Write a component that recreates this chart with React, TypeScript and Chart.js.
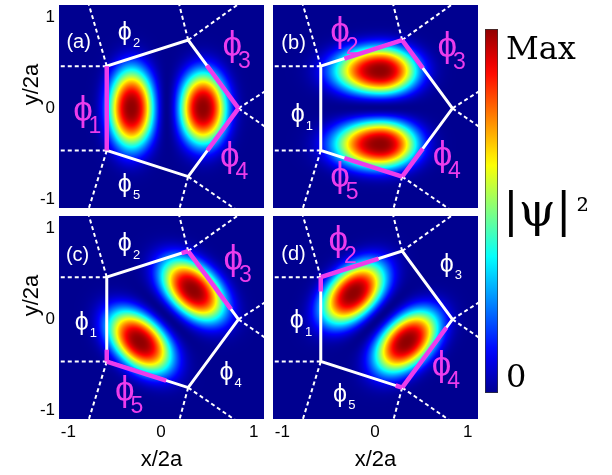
import React, { useEffect, useRef } from 'react';
import { Chart, registerables } from 'chart.js';

Chart.register(...registerables);

// ---------- axes ----------
const xTicks = [-1, 0, 1];
const yTicks = [-1, 0, 1];
const xRange = [-1.1, 1.11];
const yRange = [-1.09, 1.13];
const xTitle = 'x/2a';
const yTitle = 'y/2a';

// ---------- panels ----------
const panelLabels = ['(a)', '(b)', '(c)', '(d)'];
const panelLabelX = [-0.888, -0.878, -0.9, -0.879];
const panelLabelY = [0.716, 0.711, 0.695, 0.704];

// pentagon (domain boundary)
const pentagonCenter = [0.05, 0];
const pentagonRadius = 0.785;
const vertexAngles = [0, 72, 144, 216, 288];
// dashed region boundaries leaving each vertex (degrees)
const rayAngles = [[33, -35], [36, 104], [106, 180], [180, 253], [255, 325]];

// highlighted (magenta) parts of the boundary; edge k runs from vertex k to vertex k+1
const highlightEdge = [[2, 0, 4], [1, 0, 3, 4], [0, 1, 3, 2], [1, 2, 4, 3]];
const highlightFrom = [[0, 0, 0.38], [0, 0.59, 0.29, 0], [0.15, 0, 0, 0.86], [0.29, 0, 0, 0.92]];
const highlightTo = [[1, 0.63, 1], [0.71, 1, 1, 0.41], [1, 0.08, 0.73, 1], [1, 0.17, 0.88, 1]];

// phi_1..phi_5 labels per panel (glyph centres)
const phiX = [
  [-0.842, -0.39, 0.768, 0.741, -0.39],
  [-0.834, -0.377, 0.78, 0.727, -0.377],
  [-0.856, -0.39, 0.78, 0.705, -0.39],
  [-0.843, -0.395, 0.772, 0.718, -0.377],
];
const phiY = [
  [-0.037, 0.82, 0.671, -0.54, -0.839],
  [-0.082, 0.824, 0.66, -0.53, -0.757],
  [-0.044, 0.813, 0.64, -0.591, -0.79],
  [-0.026, 0.849, 0.594, -0.52, -0.828],
];
const phiHighlighted = [
  [1, 0, 1, 1, 0],
  [0, 1, 1, 1, 1],
  [0, 0, 1, 0, 1],
  [0, 1, 0, 1, 0],
];

// wavefunction lobes per panel (two lobes of opposite sign)
const lobeCenterX = [[-0.318, 0.453], [0.06, 0.06], [0.345, -0.228], [-0.234, 0.341]];
const lobeCenterY = [[0, 0], [0.41, -0.394], [0.32, -0.245], [0.284, -0.245]];
const lobeAngle = [[90, 90], [0, 0], [-45, -45], [45, 45]];
const lobeBack = [[0.425, 0.39], [0.48, 0.48], [0.4, 0.4], [0.4, 0.4]];
const lobeFront = [[0.425, 0.39], [0.38, 0.38], [0.4, 0.4], [0.4, 0.4]];
const lobeWidth = [[0.24, 0.25], [0.255, 0.255], [0.25, 0.25], [0.25, 0.25]];
const lobeSign = [[1, -1], [1, -1], [1, -1], [1, -1]];

// colour bar
const colorbarTickValues = [0.04, 0.94];
const colorbarTickLabels = ['0', 'Max'];
const colorbarTitle = '|\u03c8|';
const colorbarTitleSup = '\u00b2';

// ---------- styles ----------
const SANS = 'Liberation Sans, Arial, sans-serif';
const SERIF = 'DejaVu Serif, serif';
const MAGENTA = '#ec3cec';
const PROFILE_EXP = 2.6;
const PHI = '\u03d5';

function jet(t: number): [number, number, number] {
  const x = 0.016 + 0.968 * Math.min(1, Math.max(0, t));
  const c = (v: number) => Math.round(255 * Math.min(1, Math.max(0, v)));
  return [
    c(Math.min(4 * x - 1.5, -4 * x + 4.5)),
    c(Math.min(4 * x - 0.5, -4 * x + 3.5)),
    c(Math.min(4 * x + 0.5, -4 * x + 2.5)),
  ];
}

function psi(p: number, xv: number, yv: number) {
  let s = 0;
  for (let k = 0; k < lobeCenterX[p].length; k++) {
    const th = (lobeAngle[p][k] * Math.PI) / 180;
    const dx = xv - lobeCenterX[p][k];
    const dy = yv - lobeCenterY[p][k];
    const u = dx * Math.cos(th) + dy * Math.sin(th);
    const v = -dx * Math.sin(th) + dy * Math.cos(th);
    const a = u < 0 ? lobeBack[p][k] : lobeFront[p][k];
    const q2 = (u / a) * (u / a) + (v / lobeWidth[p][k]) * (v / lobeWidth[p][k]);
    s += lobeSign[p][k] * Math.exp(-0.5 * Math.pow(q2, PROFILE_EXP / 2));
  }
  return s * s;
}

function panelPlugin(p: number, withYTitle: boolean) {
  return {
    id: 'panelArt' + p,
    beforeDatasetsDraw(chart: any) {
      const { ctx, chartArea: a } = chart;
      const xs = chart.scales.x;
      const ys = chart.scales.y;
      const w = Math.round(a.right - a.left);
      const h = Math.round(a.bottom - a.top);
      // heat map
      const vals = new Float32Array(w * h);
      let max = 0;
      for (let j = 0; j < h; j++) {
        const yv = ys.getValueForPixel(a.top + j + 0.5);
        for (let i = 0; i < w; i++) {
          const xv = xs.getValueForPixel(a.left + i + 0.5);
          const v = psi(p, xv, yv);
          vals[j * w + i] = v;
          if (v > max) max = v;
        }
      }
      const off = document.createElement('canvas');
      off.width = w;
      off.height = h;
      const octx = off.getContext('2d')!;
      const img = octx.createImageData(w, h);
      for (let n = 0; n < w * h; n++) {
        const [r, g, b] = jet(vals[n] / max);
        img.data[4 * n] = r;
        img.data[4 * n + 1] = g;
        img.data[4 * n + 2] = b;
        img.data[4 * n + 3] = 255;
      }
      octx.putImageData(img, 0, 0);
      ctx.drawImage(off, a.left, a.top);

      const px = (v: number) => xs.getPixelForValue(v);
      const py = (v: number) => ys.getPixelForValue(v);
      const verts = vertexAngles.map((d) => {
        const t = (d * Math.PI) / 180;
        return [pentagonCenter[0] + pentagonRadius * Math.cos(t), pentagonCenter[1] + pentagonRadius * Math.sin(t)];
      });

      ctx.save();
      ctx.beginPath();
      ctx.rect(a.left, a.top, a.right - a.left, a.bottom - a.top);
      ctx.clip();

      // dashed boundaries
      ctx.strokeStyle = '#ffffff';
      ctx.lineWidth = 2;
      ctx.setLineDash([4, 3]);
      verts.forEach((vt, k) => {
        rayAngles[k].forEach((d) => {
          const t = (d * Math.PI) / 180;
          ctx.beginPath();
          ctx.moveTo(px(vt[0]), py(vt[1]));
          ctx.lineTo(px(vt[0] + 3 * Math.cos(t)), py(vt[1] + 3 * Math.sin(t)));
          ctx.stroke();
        });
      });
      ctx.setLineDash([]);

      // pentagon
      ctx.lineWidth = 3;
      ctx.lineJoin = 'miter';
      ctx.beginPath();
      verts.forEach((vt, k) => (k === 0 ? ctx.moveTo(px(vt[0]), py(vt[1])) : ctx.lineTo(px(vt[0]), py(vt[1]))));
      ctx.closePath();
      ctx.stroke();

      // highlighted segments
      ctx.strokeStyle = MAGENTA;
      ctx.lineWidth = 4.5;
      ctx.lineCap = 'butt';
      highlightEdge[p].forEach((e, k) => {
        const A = verts[e];
        const B = verts[(e + 1) % 5];
        const t0 = highlightFrom[p][k];
        const t1 = highlightTo[p][k];
        ctx.beginPath();
        ctx.moveTo(px(A[0] + (B[0] - A[0]) * t0), py(A[1] + (B[1] - A[1]) * t0));
        ctx.lineTo(px(A[0] + (B[0] - A[0]) * t1), py(A[1] + (B[1] - A[1]) * t1));
        ctx.stroke();
      });

      // labels
      ctx.textAlign = 'center';
      ctx.textBaseline = 'middle';
      ctx.fillStyle = '#ffffff';
      ctx.font = `20px ${SANS}`;
      ctx.fillText(panelLabels[p], px(panelLabelX[p]), py(panelLabelY[p]));
      ctx.textBaseline = 'alphabetic';
      for (let k = 0; k < 5; k++) {
        const big = phiHighlighted[p][k] === 1;
        const cx = px(phiX[p][k]);
        const cy = py(phiY[p][k]);
        const fs = big ? 35 : 25;
        const ss = big ? 23 : 13;
        ctx.fillStyle = big ? MAGENTA : '#ffffff';
        ctx.font = `${fs}px ${SANS}`;
        ctx.fillText(PHI, cx, cy + 0.26 * fs);
        ctx.font = `${ss}px ${SANS}`;
        const sx = cx + (big ? 12 : 11.7);
        const sy = cy + (big ? 13 : 9.2);
        ctx.fillText(String(k + 1), sx, sy + 0.358 * ss);
      }
      ctx.restore();
    },
    afterDraw(chart: any) {
      if (!withYTitle) return;
      const { ctx, chartArea: a } = chart;
      ctx.save();
      ctx.translate(32, (a.top + a.bottom) / 2 - 22);
      ctx.rotate(-Math.PI / 2);
      ctx.fillStyle = '#000';
      ctx.font = `22px ${SANS}`;
      ctx.textAlign = 'center';
      ctx.textBaseline = 'middle';
      ctx.fillText(yTitle, 0, 0);
      ctx.restore();
    },
  };
}

type PanelProps = { index: number; left: number; top: number; width: number; height: number; showX: boolean; showY: boolean };

function Panel({ index, left, top, width, height, showX, showY }: PanelProps) {
  const ref = useRef<HTMLCanvasElement>(null);
  useEffect(() => {
    const canvas = ref.current!;
    const chart = new Chart(canvas, {
      type: 'scatter',
      data: { datasets: [{ data: [] }] },
      options: {
        animation: false,
        responsive: false,
        devicePixelRatio: 1,
        layout: { padding: { top: showX ? 0 : 5, left: 0, right: 0, bottom: 0 } },
        plugins: { legend: { display: false }, tooltip: { enabled: false } },
        scales: {
          x: {
            type: 'linear',
            min: xRange[0],
            max: xRange[1],
            display: showX,
            grid: { display: false, drawTicks: false },
            border: { display: false },
            ticks: { font: { family: SANS, size: 17 }, color: '#000', padding: 3, maxRotation: 0, autoSkip: false },
            title: { display: true, text: xTitle, font: { family: SANS, size: 22 }, color: '#000', padding: { top: 0, bottom: 2 } },
            afterBuildTicks: (s: any) => {
              s.ticks = xTicks.map((v) => ({ value: v }));
            },
            afterFit: (s: any) => {
              if (!showX) { s.height = 0; return; }
              s.height = 56;
              s.paddingLeft = 0;
              s.paddingRight = 0;
            },
          },
          y: {
            type: 'linear',
            min: yRange[0],
            max: yRange[1],
            display: showY,
            grid: { display: false, drawTicks: false },
            border: { display: false },
            ticks: { font: { family: SANS, size: 17 }, color: '#000', padding: 4, autoSkip: false },
            afterBuildTicks: (s: any) => {
              s.ticks = yTicks.map((v) => ({ value: v }));
            },
            afterFit: (s: any) => {
              if (!showY) { s.width = 0; return; }
              s.width = 59;
              s.paddingTop = 0;
              s.paddingBottom = 0;
            },
          },
        },
      } as any,
      plugins: [panelPlugin(index, showY)],
    });
    return () => chart.destroy();
  }, []);
  return <canvas ref={ref} width={width} height={height} style={{ position: 'absolute', left, top, width, height }} />;
}

function Colorbar() {
  const ref = useRef<HTMLCanvasElement>(null);
  useEffect(() => {
    const canvas = ref.current!;
    const chart = new Chart(canvas, {
      type: 'bar',
      data: {
        labels: [''],
        datasets: [
          {
            data: [1],
            backgroundColor: (c: any) => {
              const a = c.chart.chartArea;
              if (!a) return '#000080';
              const g = c.chart.ctx.createLinearGradient(0, a.bottom, 0, a.top);
              for (let i = 0; i <= 32; i++) {
                const [r, gg, b] = jet(i / 32);
                g.addColorStop(i / 32, `rgb(${r},${gg},${b})`);
              }
              return g;
            },
            borderColor: '#333333',
            borderWidth: 1,
            borderSkipped: false,
            barPercentage: 1,
            categoryPercentage: 1,
          },
        ],
      },
      options: {
        animation: false,
        responsive: false,
        devicePixelRatio: 1,
        layout: { padding: 0 },
        plugins: { legend: { display: false }, tooltip: { enabled: false } },
        scales: {
          x: { display: false },
          y: {
            position: 'right',
            min: 0,
            max: 1,
            grid: { display: false, drawTicks: false },
            border: { display: false },
            ticks: {
              font: { family: SERIF, size: 32 },
              color: '#000',
              padding: 8,
              callback: (v: any) => {
                const i = colorbarTickValues.indexOf(Number(v));
                return i >= 0 ? colorbarTickLabels[i] : '';
              },
            },
            afterBuildTicks: (s: any) => {
              s.ticks = colorbarTickValues.map((v) => ({ value: v }));
            },
            afterFit: (s: any) => {
              s.width = 114;
              s.paddingTop = 0;
              s.paddingBottom = 0;
            },
          },
        },
      } as any,
      plugins: [
        {
          id: 'cbTitle',
          afterDraw(ch: any) {
            const { ctx, chartArea: a } = ch;
            ctx.save();
            ctx.fillStyle = '#000';
            ctx.textAlign = 'left';
            ctx.textBaseline = 'alphabetic';
            const base = (a.top + a.bottom) / 2 + 15;
            ctx.font = `47px ${SERIF}`;
            const x0 = a.right + 5;
            ctx.fillText(colorbarTitle, x0, base);
            const wMain = ctx.measureText(colorbarTitle).width;
            ctx.font = `31px ${SERIF}`;
            ctx.fillText(colorbarTitleSup, x0 + wMain + 5, base - 5);
            ctx.restore();
          },
        },
      ],
    });
    return () => chart.destroy();
  }, []);
  return <canvas ref={ref} width={127} height={364} style={{ position: 'absolute', left: 485, top: 29, width: 127, height: 364 }} />;
}

export default function App() {
  return (
    <div style={{ position: 'absolute', left: 0, top: 0, width: 612, height: 475, background: '#fff', overflow: 'hidden' }}>
      <Panel index={0} left={0} top={0} width={264} height={208} showX={false} showY={true} />
      <Panel index={1} left={273} top={0} width={205} height={208} showX={false} showY={false} />
      <Panel index={2} left={0} top={216} width={264} height={259} showX={true} showY={true} />
      <Panel index={3} left={273} top={216} width={205} height={259} showX={true} showY={false} />
      <Colorbar />
    </div>
  );
}
